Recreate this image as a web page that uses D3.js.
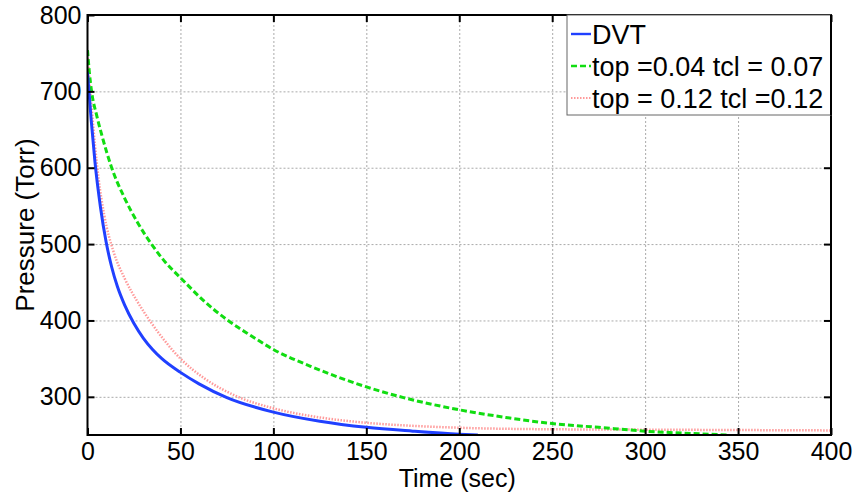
<!DOCTYPE html>
<html>
<head>
<meta charset="utf-8">
<script src="https://cdn.jsdelivr.net/npm/d3@7"></script>
<style>
  body { margin: 0; background: #fff; }
  svg { font-family: "Liberation Sans", Arial, sans-serif; }
</style>
</head>
<body>
<div id="content"></div>
<script>
const width = 856;
const height = 493;
const margin = { top: 15, right: 25, bottom: 58, left: 87.5 };

const xTicks = [0, 50, 100, 150, 200, 250, 300, 350, 400];
const yTicks = [300, 400, 500, 600, 700, 800];

// DVT (solid blue)
const dvtTime = [0, 2, 4, 7, 10, 13, 16, 20, 25, 30, 35, 40, 50, 60, 75, 100, 125, 150, 175, 200, 210];
const dvtPressure = [725, 662, 608, 548, 503, 470, 445, 420, 396, 377, 362, 350, 332, 317, 299, 280, 268, 260, 255, 251, 250];

// top =0.04 tcl = 0.07 (green dashed)
const greenTime = [0, 1, 2.2, 5, 8, 13, 20, 27, 35, 42, 50, 62, 75, 88, 100, 120, 150, 170, 200, 225, 250, 275, 300, 325, 345];
const greenPressure = [754, 725, 700, 668, 640, 600, 560, 528, 498, 476, 456, 427, 401, 380, 362, 340, 313, 299, 283, 273, 265, 260, 255, 252, 250];

// top = 0.12 tcl =0.12 (pink dotted)
const redTime = [0, 2, 4, 6, 9, 14, 20, 27, 34, 42, 50, 63, 80, 100, 125, 150, 175, 200, 250, 300, 400];
const redPressure = [748, 685, 630, 585, 538, 490, 455, 424, 398, 372, 350, 324, 301, 285, 273, 266, 262, 259.5, 257.5, 257, 256];

const seriesNames = ['DVT', 'top =0.04 tcl = 0.07', 'top = 0.12 tcl =0.12'];

const series = [
  { name: seriesNames[0], t: dvtTime, p: dvtPressure, color: '#2040ff', width: 3, dash: null },
  { name: seriesNames[1], t: greenTime, p: greenPressure, color: '#11dd11', width: 3, dash: '6,3' },
  { name: seriesNames[2], t: redTime, p: redPressure, color: '#ff9a9a', width: 2.5, dash: '1.5,1.5' }
];

const innerW = width - margin.left - margin.right;
const innerH = height - margin.top - margin.bottom;

const x = d3.scaleLinear().domain([0, 400]).range([0, innerW]);
const y = d3.scaleLinear().domain([250, 800]).range([innerH, 0]);

const svg = d3.select('#content')
  .append('svg')
  .attr('width', width)
  .attr('height', height);

const g = svg.append('g')
  .attr('transform', `translate(${margin.left},${margin.top})`);

g.append('clipPath').attr('id', 'plot-clip')
  .append('rect').attr('width', innerW).attr('height', innerH);

// grid
g.append('g')
  .attr('transform', `translate(0,${innerH})`)
  .call(d3.axisBottom(x).tickValues(xTicks.slice(1, -1)).tickSize(-innerH).tickFormat(''))
  .call(a => a.select('.domain').remove())
  .selectAll('line')
  .attr('stroke', '#aaa')
  .attr('stroke-dasharray', '2,2');

g.append('g')
  .call(d3.axisLeft(y).tickValues(yTicks.slice(0, -1)).tickSize(-innerW).tickFormat(''))
  .call(a => a.select('.domain').remove())
  .selectAll('line')
  .attr('stroke', '#aaa')
  .attr('stroke-dasharray', '2,2');

// curves
const line = d3.line()
  .x(d => x(d[0]))
  .y(d => y(d[1]))
  .curve(d3.curveMonotoneX);

const curves = g.append('g').attr('clip-path', 'url(#plot-clip)');
series.slice().reverse().forEach((s) => {
  curves.append('path')
    .datum(s.t.map((t, i) => [t, s.p[i]]))
    .attr('d', line)
    .attr('fill', 'none')
    .attr('stroke', s.color)
    .attr('stroke-width', s.width)
    .attr('stroke-dasharray', s.dash);
});

// axes with inward ticks
const styleAxis = (a) => {
  a.select('.domain').remove();
  a.selectAll('line').attr('stroke', '#000').attr('stroke-width', 2);
  a.selectAll('text').attr('font-size', 25).attr('fill', '#000');
};

g.append('g')
  .attr('transform', `translate(0,${innerH})`)
  .call(d3.axisBottom(x).tickValues(xTicks).tickSize(-7).tickPadding(7))
  .call(styleAxis);

g.append('g')
  .call(d3.axisTop(x).tickValues(xTicks).tickSize(-7).tickFormat(''))
  .call(styleAxis);

g.append('g')
  .call(d3.axisLeft(y).tickValues(yTicks).tickSize(-7).tickPadding(6))
  .call(styleAxis);

g.append('g')
  .attr('transform', `translate(${innerW},0)`)
  .call(d3.axisRight(y).tickValues(yTicks).tickSize(-7).tickFormat(''))
  .call(styleAxis);

g.append('rect')
  .attr('width', innerW)
  .attr('height', innerH)
  .attr('fill', 'none')
  .attr('stroke', '#000')
  .attr('stroke-width', 2);

// axis labels
svg.append('text')
  .attr('x', margin.left + x(200) - 2)
  .attr('y', 487)
  .attr('text-anchor', 'middle')
  .attr('font-size', 25)
  .text('Time (sec)');

svg.append('text')
  .attr('transform', `translate(34,${margin.top + y(525)}) rotate(-90)`)
  .attr('text-anchor', 'middle')
  .attr('font-size', 26)
  .text('Pressure (Torr)');

// legend
const legW = 264;
const legH = 100;
const leg = g.append('g').attr('transform', `translate(${innerW - legW},0)`);

leg.append('clipPath').attr('id', 'leg-clip')
  .append('rect').attr('width', legW).attr('height', legH);

leg.append('rect')
  .attr('width', legW)
  .attr('height', legH)
  .attr('fill', '#fff')
  .attr('stroke', '#666')
  .attr('stroke-width', 1);

const legRows = leg.append('g').attr('clip-path', 'url(#leg-clip)');
series.forEach((s, i) => {
  const cy = 19 + i * 32;
  legRows.append('line')
    .attr('x1', 4).attr('x2', 24)
    .attr('y1', cy).attr('y2', cy)
    .attr('stroke', s.color)
    .attr('stroke-width', s.width * 0.8)
    .attr('stroke-dasharray', s.dash);
  legRows.append('text')
    .attr('x', 25)
    .attr('y', cy + 10)
    .attr('font-size', 27)
    .text(s.name);
});

leg.append('line')
  .attr('x1', legW).attr('x2', legW)
  .attr('y1', 0).attr('y2', legH)
  .attr('stroke', '#000').attr('stroke-width', 2);
</script>
</body>
</html>
